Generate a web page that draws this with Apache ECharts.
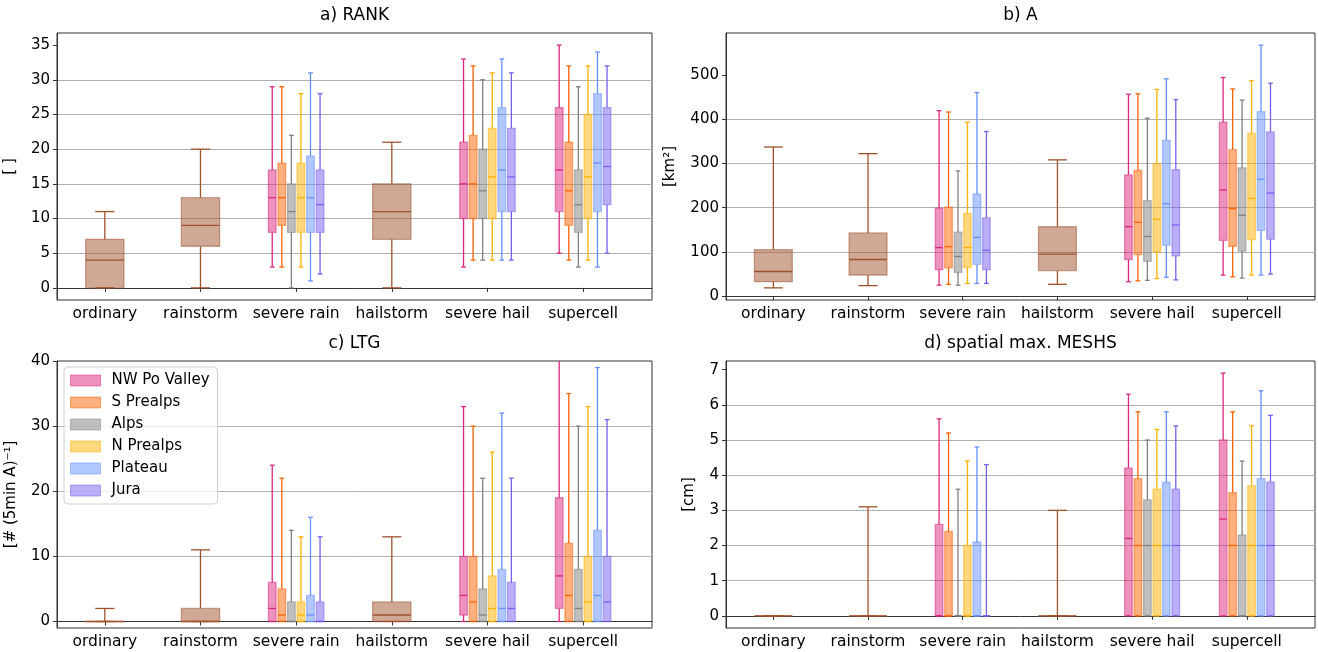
<!DOCTYPE html>
<html>
<head>
<meta charset="utf-8">
<script src="https://cdn.jsdelivr.net/npm/echarts@6/dist/echarts.min.js"></script>
<style>
  html, body { margin: 0; padding: 0; background: #fff; }
  #chart { width: 1318px; height: 652px; }
</style>
</head>
<body>
<div id="chart"></div>
<script>
const categories = ['ordinary', 'rainstorm', 'severe rain', 'hailstorm', 'severe hail', 'supercell'];
const regionNames = ['NW Po Valley', 'S Prealps', 'Alps', 'N Prealps', 'Plateau', 'Jura'];
const regionColors = ['#DC267F', '#FE6100', '#808080', '#FFB000', '#648FFF', '#785EF0'];
const allColor = '#A0522D';

// categories drawn as one box, and as one box per region
const allCats = ['ordinary', 'rainstorm', 'hailstorm'];
const regionCats = ['severe rain', 'severe hail', 'supercell'];

// every box: [lower whisker, q1, median, q3, upper whisker]
const rankAll = [[0, 0, 4, 7, 11], [0, 6, 9, 13, 20], [0, 7, 11, 15, 21]];
const rankRegions = [
  [[3, 8, 13, 17, 29], [3, 9, 13, 18, 29], [0, 8, 11, 15, 22], [3, 8, 13, 18, 28], [1, 8, 13, 19, 31], [2, 8, 12, 17, 28]],
  [[3, 10, 15, 21, 33], [4, 10, 15, 22, 32], [4, 10, 14, 20, 30], [4, 10, 16, 23, 31], [4, 11, 17, 26, 33], [4, 11, 16, 23, 31]],
  [[5, 11, 17, 26, 35], [4, 9, 14, 21, 32], [3, 8, 12, 17, 29], [4, 10, 16, 25, 32], [3, 11, 18, 28, 34], [5, 12, 17.5, 26, 32]]
];

const areaAll = [[19, 33, 56, 105, 337], [24, 48, 83, 143, 322], [27, 58, 95, 157, 308]];
const areaRegions = [
  [[25, 60, 110, 199, 419], [27, 64, 112, 201, 416], [25, 54, 90, 145, 283], [29, 65, 110, 187, 393], [29, 72, 133, 231, 460], [29, 60, 104, 177, 372]],
  [[33, 83, 157, 274, 456], [35, 94, 167, 284, 457], [36, 79, 135, 216, 402], [40, 100, 174, 299, 467], [43, 115, 209, 352, 491], [37, 91, 161, 286, 444]],
  [[48, 126, 240, 393, 494], [44, 113, 198, 331, 468], [41, 102, 183, 290, 443], [48, 128, 221, 368, 487], [48, 149, 264, 417, 567], [50, 129, 233, 371, 481]]
];

const ltgAll = [[0, 0, 0, 0, 2], [0, 0, 0, 2, 11], [0, 0, 1, 3, 13]];
const ltgRegions = [
  [[0, 0, 2, 6, 24], [0, 0, 1, 5, 22], [0, 0, 0, 3, 14], [0, 0, 1, 3, 13], [0, 0, 1, 4, 16], [0, 0, 0, 3, 13]],
  [[0, 1, 4, 10, 33], [0, 0, 3, 10, 30], [0, 0, 1, 5, 22], [0, 0, 2, 7, 26], [0, 0, 2, 8, 32], [0, 0, 2, 6, 22]],
  [[0, 2, 7, 19, 42], [0, 0, 4, 12, 35], [0, 0, 2, 8, 30], [0, 0, 3, 10, 33], [0, 0, 4, 14, 39], [0, 0, 3, 10, 31]]
];

const meshsAll = [[0, 0, 0, 0, 0], [0, 0, 0, 0, 3.1], [0, 0, 0, 0, 3.0]];
const meshsRegions = [
  [[0, 0, 0, 2.6, 5.6], [0, 0, 0, 2.4, 5.2], [0, 0, 0, 0, 3.6], [0, 0, 0, 2.0, 4.4], [0, 0, 0, 2.1, 4.8], [0, 0, 0, 0, 4.3]],
  [[0, 0, 2.2, 4.2, 6.3], [0, 0, 2.0, 3.9, 5.8], [0, 0, 2.0, 3.3, 5.0], [0, 0, 2.0, 3.6, 5.3], [0, 0, 2.0, 3.8, 5.8], [0, 0, 2.0, 3.6, 5.4]],
  [[0, 0, 2.75, 5.0, 6.9], [0, 0, 2.0, 3.5, 5.8], [0, 0, 0, 2.3, 4.4], [0, 0, 2.0, 3.7, 5.4], [0, 0, 2.0, 3.9, 6.4], [0, 0, 2.0, 3.8, 5.7]]
];

// y tick labels
const rankTicks = [0, 5, 10, 15, 20, 25, 30, 35];
const areaTicks = [0, 100, 200, 300, 400, 500];
const ltgTicks = [0, 10, 20, 30, 40];
const meshsTicks = [0, 1, 2, 3, 4, 5, 6, 7];

const panels = [
  { title: 'a) RANK', unit: '[ ]', all: rankAll, regions: rankRegions, ticks: rankTicks, min: -1.75, max: 36.75, step: 5,
    grid: { left: 57, top: 33, width: 595, height: 267 }, nameGap: 39 },
  { title: 'b) A', unit: '[km²]', all: areaAll, regions: areaRegions, ticks: areaTicks, min: -8.4, max: 594.4, step: 100,
    grid: { left: 726, top: 33, width: 589, height: 267 }, nameGap: 48 },
  { title: 'c) LTG', unit: '[# (5min A)⁻¹]', all: ltgAll, regions: ltgRegions, ticks: ltgTicks, min: -1, max: 40, step: 10,
    grid: { left: 57, top: 361, width: 595, height: 267 }, nameGap: 38 },
  { title: 'd) spatial max. MESHS', unit: '[cm]', all: meshsAll, regions: meshsRegions, ticks: meshsTicks, min: -0.345, max: 7.245, step: 1,
    grid: { left: 726, top: 361, width: 589, height: 267 }, nameGap: 29 }
];

const font = 'DejaVu Sans';
const regionOffsets = [-0.25, -0.15, -0.05, 0.05, 0.15, 0.25];

function rgba(hex, a) {
  const n = parseInt(hex.slice(1), 16);
  return `rgba(${n >> 16},${(n >> 8) & 255},${n & 255},${a})`;
}

function boxSeries(name, color, data, gi, half, cap) {
  return {
    type: 'custom',
    name: name,
    xAxisIndex: gi,
    yAxisIndex: gi,
    clip: true,
    itemStyle: { color: rgba(color, 0.5) },
    encode: { x: 0, y: [1, 2, 3, 4, 5] },
    data: data,
    renderItem: function (params, api) {
      const x = api.value(0);
      const v = [1, 2, 3, 4, 5].map(i => api.value(i));
      const px = d => api.coord([x + d, 0])[0];
      const py = val => api.coord([x, val])[1];
      const xc = px(0), xl = px(-half), xr = px(half), cl = px(-cap), cr = px(cap);
      const line = (x1, y1, x2, y2) => ({
        type: 'line', shape: { x1, y1, x2, y2 }, style: { stroke: color, lineWidth: 1.3 }
      });
      return {
        type: 'group',
        children: [
          line(xc, py(v[0]), xc, py(v[1])),
          line(xc, py(v[3]), xc, py(v[4])),
          line(cl, py(v[0]), cr, py(v[0])),
          line(cl, py(v[4]), cr, py(v[4])),
          {
            type: 'rect',
            shape: { x: xl, y: py(v[3]), width: xr - xl, height: py(v[1]) - py(v[3]) },
            style: { fill: rgba(color, 0.5), stroke: rgba(color, 0.5), lineWidth: 1.3 }
          },
          line(xl, py(v[2]), xr, py(v[2]))
        ]
      };
    }
  };
}

const grids = [], xAxes = [], yAxes = [], titles = [], series = [];

panels.forEach((p, gi) => {
  grids.push(Object.assign({ show: true, borderColor: '#333', borderWidth: 1, backgroundColor: 'transparent' }, p.grid));
  titles.push({
    text: p.title,
    left: p.grid.left + p.grid.width / 2,
    top: p.grid.top - 26,
    textAlign: 'center',
    padding: 0,
    textStyle: { fontFamily: font, fontSize: 17, fontWeight: 'normal', color: '#000' }
  });
  xAxes.push({
    type: 'value', gridIndex: gi, min: 0.5, max: 6.72,
    axisLine: { show: true, lineStyle: { color: '#333', width: 1 } },
    axisTick: { show: true, length: 4, customValues: [1, 2, 3, 4, 5, 6], lineStyle: { color: '#333' } },
    axisLabel: {
      customValues: [1, 2, 3, 4, 5, 6], margin: 6,
      formatter: v => categories[Math.round(v) - 1],
      fontFamily: font, fontSize: 15.5, color: '#000'
    },
    splitLine: { show: false }
  });
  yAxes.push({
    type: 'value', gridIndex: gi, min: p.min, max: p.max,
    minInterval: p.step, maxInterval: p.step,
    name: p.unit, nameLocation: 'middle', nameRotate: 90, nameGap: p.nameGap,
    nameTextStyle: { fontFamily: font, fontSize: 15, color: '#000' },
    axisLine: { show: true, lineStyle: { color: '#333', width: 1 } },
    axisTick: { show: true, length: 4, customValues: p.ticks, lineStyle: { color: '#333' } },
    axisLabel: { customValues: p.ticks, margin: 7, fontFamily: font, fontSize: 15, color: '#000' },
    splitLine: { show: true, showMinLine: false, showMaxLine: false, lineStyle: { color: '#b0b0b0', width: 1 } }
  });

  const allData = p.all.map((b, k) => [categories.indexOf(allCats[k]) + 1].concat(b));
  series.push(boxSeries('all', allColor, allData, gi, 0.2, 0.1));
  regionNames.forEach((r, ri) => {
    const data = regionCats.map((c, k) => [categories.indexOf(c) + 1 + regionOffsets[ri]].concat(p.regions[k][ri]));
    series.push(boxSeries(r, regionColors[ri], data, gi, 0.04, 0.025));
  });
});

const chart = echarts.init(document.getElementById('chart'), null, { renderer: 'canvas' });
chart.setOption({
  animation: false,
  backgroundColor: '#fff',
  title: titles,
  grid: grids,
  xAxis: xAxes,
  yAxis: yAxes,
  legend: {
    data: regionNames.map((r, i) => ({
      name: r,
      itemStyle: { color: rgba(regionColors[i], 0.5), borderColor: rgba(regionColors[i], 0.5), borderWidth: 1 }
    })),
    orient: 'vertical',
    left: 64, top: 367,
    icon: 'rect',
    itemWidth: 30, itemHeight: 11, itemGap: 7,
    padding: [6, 8, 6, 6],
    backgroundColor: 'rgba(255,255,255,0.8)',
    borderColor: '#d0d0d0', borderWidth: 1, borderRadius: 4,
    selectedMode: false,
    textStyle: { fontFamily: font, fontSize: 15, color: '#000', padding: [0, 0, 0, 6] }
  },
  series: series
});
</script>
</body>
</html>
